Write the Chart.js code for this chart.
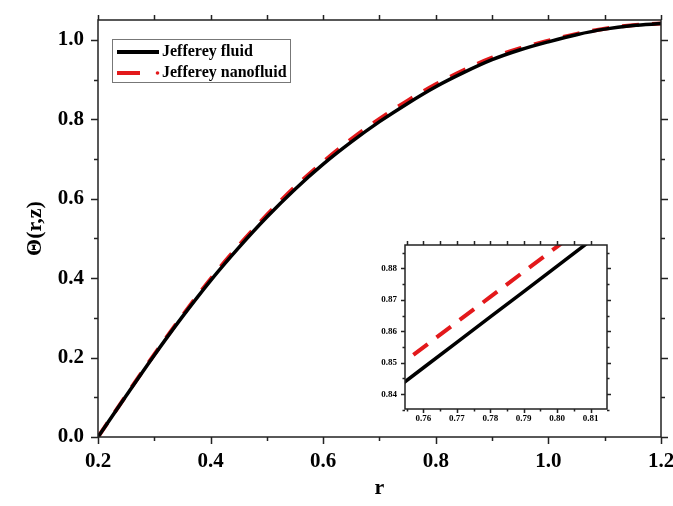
<!DOCTYPE html>
<html>
<head>
<meta charset="utf-8">
<script src="https://cdn.jsdelivr.net/npm/chart.js@4.4.1/dist/chart.umd.min.js"></script>
<style>
  body { margin: 0; background: #fff; }
  #wrap { position: relative; width: 673px; height: 506px; }
  #main { position: absolute; left: 0; top: 0; }
  #inset { position: absolute; left: 360px; top: 235px; }
</style>
</head>
<body>
<div id="wrap">
  <canvas id="main" width="673" height="506"></canvas>
  <canvas id="inset" width="265" height="195"></canvas>
</div>
<script>
const serif = '"Liberation Serif", "Times New Roman", serif';

// temperature profile over r
const rVals = [0.2, 0.25, 0.3, 0.35, 0.4, 0.45, 0.5, 0.55, 0.6, 0.65, 0.7,
               0.75, 0.8, 0.85, 0.9, 0.95, 1.0, 1.05, 1.1, 1.15, 1.2];
const thetaFluid = [0, 0.104, 0.206, 0.303, 0.394, 0.477, 0.554, 0.624, 0.687, 0.743, 0.794,
                    0.840, 0.882, 0.918, 0.950, 0.975, 0.995, 1.013, 1.027, 1.036, 1.041];
const thetaNano  = [0, 0.105, 0.208, 0.306, 0.398, 0.482, 0.559, 0.630, 0.693, 0.750, 0.801,
                    0.847, 0.888, 0.924, 0.955, 0.979, 0.998, 1.015, 1.028, 1.037, 1.041];

const xMajor = [0.2, 0.4, 0.6, 0.8, 1.0, 1.2];
const xMinor = [0.3, 0.5, 0.7, 0.9, 1.1];
const yMajor = [0, 0.2, 0.4, 0.6, 0.8, 1.0];
const yMinor = [0.1, 0.3, 0.5, 0.7, 0.9];

// zoomed window around r = 0.78
const insetR      = [0.75, 0.76, 0.77, 0.78, 0.79, 0.80, 0.81, 0.82];
const insetFluid  = [0.8403, 0.8484, 0.8565, 0.8646, 0.8726, 0.8807, 0.8888, 0.8969];
const insetNanoR  = [0.757, 0.77, 0.78, 0.79, 0.80, 0.81];
const insetNano   = [0.8525, 0.8629, 0.8709, 0.8789, 0.8869, 0.8949];
const insetXMajor = [0.76, 0.77, 0.78, 0.79, 0.80, 0.81];
const insetXMinor = [0.755, 0.765, 0.775, 0.785, 0.795, 0.805];
const insetYMajor = [0.84, 0.85, 0.86, 0.87, 0.88];
const insetYMinor = [0.835, 0.845, 0.855, 0.865, 0.875, 0.885];

const toXY = (xs, ys) => xs.map((x, i) => ({ x: x, y: ys[i] }));
const RED = '#e3191b';

// box around the plot plus outward ticks on all four sides
const frameTicks = {
  id: 'frameTicks',
  afterDatasetsDraw(chart, args, o) {
    const { ctx, chartArea: a, scales: { x, y } } = chart;
    ctx.save();
    ctx.strokeStyle = '#222';
    ctx.lineWidth = o.width;
    ctx.strokeRect(a.left, a.top, a.right - a.left, a.bottom - a.top);
    ctx.beginPath();
    const vx = (vals, len, topLen) => vals.forEach(v => {
      const px = Math.round(x.getPixelForValue(v)) + 0.5;
      ctx.moveTo(px, a.bottom); ctx.lineTo(px, a.bottom + len);
      ctx.moveTo(px, a.top); ctx.lineTo(px, a.top - topLen);
    });
    const vy = (vals, len) => vals.forEach(v => {
      const py = Math.round(y.getPixelForValue(v)) + 0.5;
      ctx.moveTo(a.left, py); ctx.lineTo(a.left - len, py);
      ctx.moveTo(a.right, py); ctx.lineTo(a.right + len, py);
    });
    vx(o.xMajor, o.major, o.top);
    vx(o.xMinor, o.minor, o.top);
    vy(o.yMajor, o.major);
    vy(o.yMinor, o.minor);
    ctx.stroke();
    ctx.restore();
  }
};

// legend box in the upper left of the plot
const boxLegend = {
  id: 'boxLegend',
  afterDraw(chart) {
    const { ctx } = chart;
    const ds = chart.data.datasets;
    ctx.save();
    ctx.strokeStyle = '#777';
    ctx.lineWidth = 1;
    ctx.strokeRect(112.5, 39.5, 178, 43);
    ctx.lineCap = 'butt';
    ctx.lineWidth = 4;
    ctx.strokeStyle = ds[0].borderColor;
    ctx.beginPath(); ctx.moveTo(117, 52); ctx.lineTo(159, 52); ctx.stroke();
    ctx.strokeStyle = ds[1].borderColor;
    ctx.beginPath(); ctx.moveTo(117, 73); ctx.lineTo(140, 73); ctx.stroke();
    ctx.fillStyle = ds[1].borderColor;
    ctx.beginPath(); ctx.arc(157.5, 73, 1.8, 0, Math.PI * 2); ctx.fill();
    ctx.fillStyle = '#000';
    ctx.font = 'bold 16px ' + serif;
    ctx.textBaseline = 'middle';
    ctx.fillText(ds[0].label, 162, 52);
    ctx.fillText(ds[1].label, 162, 73);
    ctx.restore();
  }
};

new Chart(document.getElementById('main'), {
  type: 'line',
  data: {
    datasets: [
      { label: 'Jefferey fluid', data: toXY(rVals, thetaFluid), borderColor: '#000',
        borderWidth: 3.5, pointRadius: 0, cubicInterpolationMode: 'monotone' },
      { label: 'Jefferey nanofluid', data: toXY(rVals, thetaNano), borderColor: RED,
        borderWidth: 4, borderDash: [17, 13], pointRadius: 0, cubicInterpolationMode: 'monotone' }
    ]
  },
  options: {
    responsive: false,
    animation: false,
    layout: { padding: { top: 20, right: 12, left: 0, bottom: 0 } },
    plugins: {
      legend: { display: false },
      tooltip: { enabled: false },
      frameTicks: { width: 1.5, major: 7, minor: 4, top: 5,
        xMajor: xMajor, xMinor: xMinor, yMajor: yMajor, yMinor: yMinor }
    },
    scales: {
      x: {
        type: 'linear', min: 0.2, max: 1.2,
        afterBuildTicks: s => { s.ticks = xMajor.map(v => ({ value: v })); },
        afterFit: s => { s.height = 69; s.paddingLeft = 0; s.paddingRight = 0; },
        grid: { display: false, drawTicks: false },
        border: { display: false },
        ticks: { color: '#000', padding: 12, maxRotation: 0,
          font: { family: serif, size: 21, weight: 'bold' },
          callback: v => v.toFixed(1) },
        title: { display: true, text: 'r', color: '#000', padding: { top: 10 },
          font: { family: serif, size: 22, weight: 'bold' } }
      },
      y: {
        min: 0, max: 1.05,
        afterBuildTicks: s => { s.ticks = yMajor.map(v => ({ value: v })); },
        afterFit: s => { s.width = 98; s.paddingTop = 0; s.paddingBottom = 0; },
        grid: { display: false, drawTicks: false },
        border: { display: false },
        ticks: { color: '#000', padding: 14,
          font: { family: serif, size: 21, weight: 'bold' },
          callback: v => v.toFixed(1) },
        title: { display: true, text: 'Θ(r,z)', color: '#000', padding: { top: 22 },
          font: { family: serif, size: 22, weight: 'bold' } }
      }
    }
  },
  plugins: [frameTicks, boxLegend]
});

new Chart(document.getElementById('inset'), {
  type: 'line',
  data: {
    datasets: [
      { label: 'Jefferey fluid', data: toXY(insetR, insetFluid), borderColor: '#000',
        borderWidth: 3.5, pointRadius: 0 },
      { label: 'Jefferey nanofluid', data: toXY(insetNanoR, insetNano), borderColor: RED,
        borderWidth: 4, borderDash: [18, 11], pointRadius: 0 }
    ]
  },
  options: {
    responsive: false,
    animation: false,
    layout: { padding: { top: 10, right: 18, left: 0, bottom: 0 } },
    plugins: {
      legend: { display: false },
      tooltip: { enabled: false },
      frameTicks: { width: 1.5, major: 4, minor: 2.5, top: 4,
        xMajor: insetXMajor, xMinor: insetXMinor, yMajor: insetYMajor, yMinor: insetYMinor }
    },
    scales: {
      x: {
        type: 'linear', min: 0.7545, max: 0.8149,
        afterBuildTicks: s => { s.ticks = insetXMajor.map(v => ({ value: v })); },
        afterFit: s => { s.height = 21; s.paddingLeft = 0; s.paddingRight = 0; },
        grid: { display: false, drawTicks: false },
        border: { display: false },
        ticks: { color: '#000', padding: 4, maxRotation: 0,
          font: { family: serif, size: 9, weight: 'bold' },
          callback: v => v.toFixed(2) }
      },
      y: {
        min: 0.8353, max: 0.8874,
        afterBuildTicks: s => { s.ticks = insetYMajor.map(v => ({ value: v })); },
        afterFit: s => { s.width = 45; s.paddingTop = 0; s.paddingBottom = 0; },
        grid: { display: false, drawTicks: false },
        border: { display: false },
        ticks: { color: '#000', padding: 8,
          font: { family: serif, size: 9, weight: 'bold' },
          callback: v => v.toFixed(2) }
      }
    }
  },
  plugins: [frameTicks]
});
</script>
</body>
</html>
